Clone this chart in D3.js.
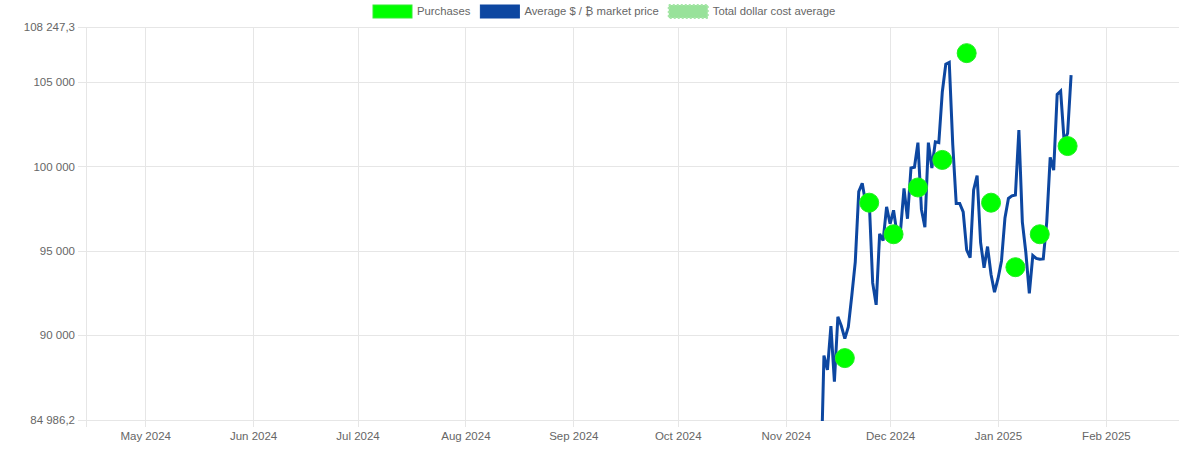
<!DOCTYPE html>
<html><head><meta charset="utf-8">
<script src="https://cdn.jsdelivr.net/npm/d3@7"></script>
<style>
html,body{margin:0;padding:0;background:#fff;}
svg{display:block;font-family:"Liberation Sans",Arial,Helvetica,sans-serif;}
</style></head>
<body>
<svg id="chart" width="1200" height="453"></svg>
<script>
// ---- data ----
const legendLabels = ["Purchases", "Average $ / \u20BF market price", "Total dollar cost average"];
const yTickValues = [84986.2, 90000, 95000, 100000, 105000, 108247.3];
const xTickMonths = ["2024-05-01","2024-06-01","2024-07-01","2024-08-01","2024-09-01","2024-10-01","2024-11-01","2024-12-01","2025-01-01","2025-02-01"];
const xDomain = ["2024-04-14","2025-02-22"];

const priceDates = [
"2024-11-11","2024-11-12","2024-11-13","2024-11-14","2024-11-15","2024-11-16","2024-11-17","2024-11-18","2024-11-19","2024-11-20",
"2024-11-21","2024-11-22","2024-11-23","2024-11-24","2024-11-25","2024-11-26","2024-11-27","2024-11-28","2024-11-29","2024-11-30",
"2024-12-01","2024-12-02","2024-12-03","2024-12-04","2024-12-05","2024-12-06","2024-12-07","2024-12-08","2024-12-09","2024-12-10",
"2024-12-11","2024-12-12","2024-12-13","2024-12-14","2024-12-15","2024-12-16","2024-12-17","2024-12-18","2024-12-19","2024-12-20",
"2024-12-21","2024-12-22","2024-12-23","2024-12-24","2024-12-25","2024-12-26","2024-12-27","2024-12-28","2024-12-29","2024-12-30",
"2024-12-31","2025-01-01","2025-01-02","2025-01-03","2025-01-04","2025-01-05","2025-01-06","2025-01-07","2025-01-08","2025-01-09",
"2025-01-10","2025-01-11","2025-01-12","2025-01-13","2025-01-14","2025-01-15","2025-01-16","2025-01-17","2025-01-18","2025-01-19",
"2025-01-20","2025-01-21","2025-01-22"];
const priceValues = [
80500, 88800, 87950, 90550, 87250, 91100, 90550, 89800, 90500, 92350,
94350, 98500, 99000, 97800, 98000, 93100, 91800, 96000, 95600, 97600,
96600, 97400, 96000, 96200, 98700, 96900, 99900, 99950, 101400, 97450,
96400, 101400, 99900, 101450, 101400, 104400, 106050, 106150, 101300, 97800,
97800, 97300, 95050, 94600, 98600, 99450, 95500, 94000, 95250, 93600,
92550, 93350, 94400, 96950, 98100, 98250, 98300, 102150, 96700, 94900,
92480, 94720, 94550, 94500, 94520, 96700, 100530, 99770, 104250, 104450,
101500, 101950, 105400];

const purchaseDates = ["2024-11-18","2024-11-25","2024-12-02","2024-12-09","2024-12-16","2024-12-23","2024-12-30","2025-01-06","2025-01-13","2025-01-21"];
const purchaseValues = [88650, 97850, 95980, 98750, 100380, 106700, 97850, 94030, 95980, 101200];

// ---- layout ----
const L = 86, R = 1179, T = 27, B = 420;
const parse = d3.utcParse("%Y-%m-%d");
const svg = d3.select("#chart");
const FONT = 11.5, LFONT = 11.3, TXT = "#666", GRID = "#e6e6e6";

const x = d3.scaleUtc().domain(xDomain.map(parse)).range([L, R]);
const y = d3.scaleLinear().domain([yTickValues[0], yTickValues[yTickValues.length-1]]).range([B, T]);

const fmtNum = v => {
  const s = Number.isInteger(v) ? d3.format(",")(v) : d3.format(",.1f")(v);
  return s.replace(/,/g, " ").replace(".", ",");
};

// y grid + axis
const gy = svg.append("g").attr("transform", `translate(${L - 8},0)`);
gy.call(d3.axisLeft(y).tickValues(yTickValues).tickSize(0).tickFormat(fmtNum).tickPadding(3));
gy.select(".domain").remove();
gy.selectAll("text").attr("fill", TXT).style("font-size", FONT + "px").style("font-family", "Liberation Sans, Arial, sans-serif");
svg.append("g").selectAll("line").data(yTickValues).join("line")
  .attr("x1", L - 8).attr("x2", R)
  .attr("y1", d => Math.round(y(d)) + 0.5).attr("y2", d => Math.round(y(d)) + 0.5)
  .attr("stroke", GRID).attr("stroke-width", 1);

// x grid + axis
const monthDates = xTickMonths.map(parse);
svg.append("g").selectAll("line").data(monthDates).join("line")
  .attr("x1", d => Math.round(x(d)) + 0.5).attr("x2", d => Math.round(x(d)) + 0.5)
  .attr("y1", T).attr("y2", B + 7)
  .attr("stroke", GRID).attr("stroke-width", 1);
const gx = svg.append("g").attr("transform", `translate(0,${B + 8})`);
gx.call(d3.axisBottom(x).tickValues(monthDates).tickSize(0).tickFormat(d3.utcFormat("%b %Y")).tickPadding(4));
gx.select(".domain").remove();
gx.selectAll("text").attr("fill", TXT).style("font-size", FONT + "px").style("font-family", "Liberation Sans, Arial, sans-serif");

// axis borders
svg.append("line").attr("x1", L + 0.5).attr("x2", L + 0.5).attr("y1", T).attr("y2", B + 7).attr("stroke", GRID);
svg.append("line").attr("x1", L - 8).attr("x2", R).attr("y1", B + 0.5).attr("y2", B + 0.5).attr("stroke", GRID);

// clip
svg.append("clipPath").attr("id", "clip").append("rect").attr("x", L).attr("y", T - 12).attr("width", R - L).attr("height", B - T + 13);

// price line
const priceData = priceDates.map((d, i) => ({ d: parse(d), v: priceValues[i] }));
svg.append("path").datum(priceData)
  .attr("clip-path", "url(#clip)")
  .attr("fill", "none").attr("stroke", "#0d47a1").attr("stroke-width", 3)
  .attr("stroke-linejoin", "miter").attr("stroke-miterlimit", 3)
  .attr("d", d3.line().x(p => x(p.d)).y(p => y(p.v)));

// purchases
const purchaseData = purchaseDates.map((d, i) => ({ d: parse(d), v: purchaseValues[i] }));
svg.append("g").selectAll("circle").data(purchaseData).join("circle")
  .attr("cx", p => x(p.d)).attr("cy", p => y(p.v)).attr("r", 9.5)
  .attr("fill", "#00ff00").attr("stroke", "#22ee22").attr("stroke-width", 1);

// legend
const legendColors = [
  { fill: "#00ff00", stroke: "#33ee33", dash: null },
  { fill: "#0d47a1", stroke: "#0d47a1", dash: null },
  { fill: "#98e29a", stroke: "#a6e6a8", dash: "2,2" }
];
const lg = svg.append("g");
let lx = 373;
legendLabels.forEach((lab, i) => {
  const c = legendColors[i];
  lg.append("rect").attr("x", lx).attr("y", 5).attr("width", 39).attr("height", 13)
    .attr("fill", c.fill).attr("stroke", c.stroke).attr("stroke-width", c.dash ? 2 : 1)
    .attr("stroke-dasharray", c.dash);
  const t = lg.append("text").attr("x", lx + 44).attr("y", 11.5).attr("dy", "0.35em")
    .attr("fill", TXT).style("font-size", LFONT + "px").text(lab);
  lx += 44 + t.node().getComputedTextLength() + 10;
});
</script>
</body></html>
